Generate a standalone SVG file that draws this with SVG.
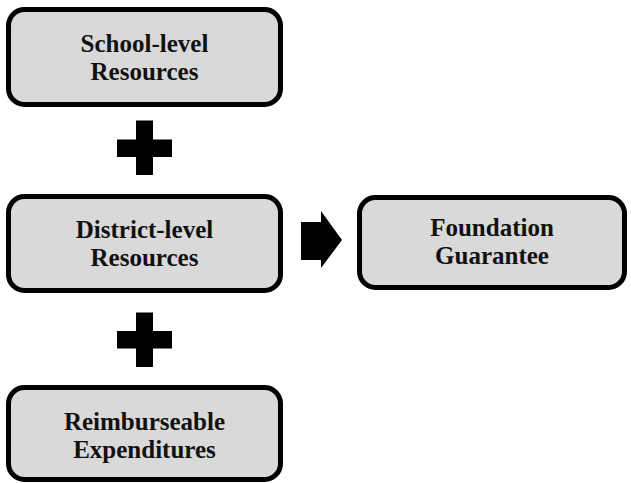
<svg xmlns="http://www.w3.org/2000/svg" width="631" height="483" viewBox="0 0 631 483">
<style>
.box{fill:#d9d9d9;stroke:#000;stroke-width:5}
.lbl{font-family:"Liberation Serif","Times New Roman",serif;font-weight:bold;font-size:25px;fill:#111;text-anchor:middle}
.sym{fill:#000}
</style>
<rect width="631" height="483" fill="#fff"/>
<g id="school">
<rect class="box" x="8.5" y="9.5" width="272" height="95" rx="16"/>
<text class="lbl" x="144.5" y="51.5">School-level</text>
<text class="lbl" x="144.5" y="79.5">Resources</text>
</g>
<g id="district">
<rect class="box" x="8.5" y="196.5" width="272" height="94" rx="16"/>
<text class="lbl" x="144.5" y="237.5">District-level</text>
<text class="lbl" x="144.5" y="265.5">Resources</text>
</g>
<g id="foundation">
<rect class="box" x="359.5" y="197.5" width="265" height="90" rx="16"/>
<text class="lbl" x="492" y="235.5">Foundation</text>
<text class="lbl" x="492" y="263.5">Guarantee</text>
</g>
<g id="reimburse">
<rect class="box" x="8.5" y="387.5" width="272" height="92" rx="16"/>
<text class="lbl" x="144.5" y="429.5">Reimburseable</text>
<text class="lbl" x="144.5" y="457.5">Expenditures</text>
</g>
<g id="connectors">
<path class="sym" d="M136 120.5h17v19h19v17.5h-19v18h-17v-18h-19v-17.5h19z"/>
<path class="sym" d="M136 312.5h17v18.5h19v17.5h-19v18.5h-17v-18.5h-19v-17.5h19z"/>
<polygon class="sym" points="301,222 321,222 321,211 342,240 321,268 321,260 301,260"/>
</g>
</svg>
